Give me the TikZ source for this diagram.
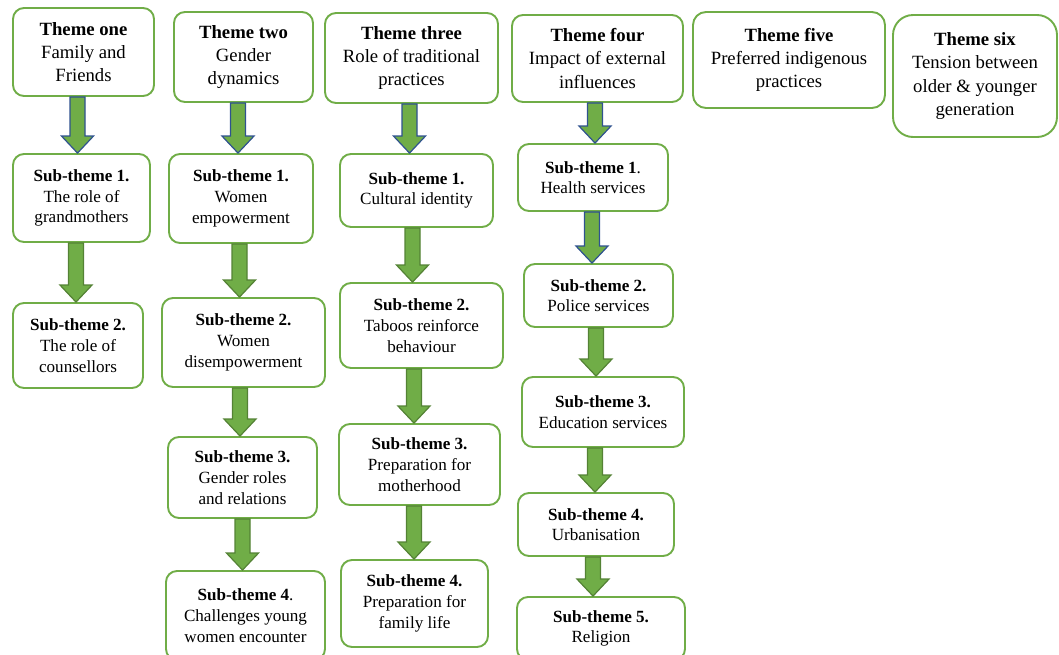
\documentclass[tikz,border=0pt]{standalone}
\usepackage{fontspec}
\setmainfont{Liberation Serif}
\usetikzlibrary{calc}

\definecolor{boxgreen}{RGB}{112,173,71}
\definecolor{arrowfill}{RGB}{112,173,71}
\definecolor{blueedge}{RGB}{47,82,143}
\definecolor{greenedge}{RGB}{84,130,53}

\tikzset{
  box/.style={draw=boxgreen, line width=1.9pt, rounded corners=11pt, fill=white,
    align=center, inner sep=0pt, text=black},
  themebox/.style={box, font=\fontsize{18.7}{23.3}\selectfont},
  subbox/.style={box, font=\fontsize{17.1}{20.7}\selectfont},
  fatarrow/.style={fill=arrowfill, draw=greenedge, line width=1.2pt, line join=miter},
  bluerim/.style={draw=blueedge},
}

% block arrow from the bottom of box #2 to the top of box #3, centred at x=#4
\newcommand\blockarrow[4][]{%
  \path[fatarrow,#1] let \p1=(#2.south), \p2=(#3.north) in
    (#4pt-7.5pt,\y1) -- (#4pt+7.5pt,\y1) -- (#4pt+7.5pt,\y2+17pt)
    -- (#4pt+16pt,\y2+17pt) -- (#4pt,\y2) -- (#4pt-16pt,\y2+17pt)
    -- (#4pt-7.5pt,\y2+17pt) -- cycle;}

\begin{document}
\begin{tikzpicture}[x=1pt,y=-1pt]
\useasboundingbox (0,0) rectangle (1059,654);
\clip (0,0) rectangle (1059,654);

% themes
\node[themebox, minimum width=141, minimum height=88] (t1) at (83.5,52)
  {\textbf{Theme one}\\Family and\\Friends};
\node[themebox, minimum width=139, minimum height=90] (t2) at (243.5,57)
  {\textbf{Theme two}\\Gender\\dynamics};
\node[themebox, minimum width=173, minimum height=90] (t3) at (411.5,58)
  {\textbf{Theme three}\\Role of traditional\\practices};
\node[themebox, minimum width=171, minimum height=87] (t4) at (597.5,58.5)
  {\textbf{Theme four}\\Impact of external\\influences};
\node[themebox, minimum width=192, minimum height=96, rounded corners=13pt] (t5) at (789,60)
  {\textbf{Theme five}\\Preferred indigenous\\practices};
\node[themebox, minimum width=164, minimum height=122, rounded corners=20pt] (t6) at (975,76)
  {\textbf{Theme six}\\Tension between\\older \& younger\\generation};

% column one
\node[subbox, minimum width=137, minimum height=88] (a1) at (81.5,198)
  {\textbf{Sub-theme 1.}\\The role of\\grandmothers};
\node[subbox, minimum width=130, minimum height=85] (a2) at (78,345.5)
  {\textbf{Sub-theme 2.}\\The role of\\counsellors};

% column two
\node[subbox, minimum width=144, minimum height=89] (b1) at (241,198.5)
  {\textbf{Sub-theme 1.}\\Women\\empowerment};
\node[subbox, minimum width=163, minimum height=89] (b2) at (243.5,342.5)
  {\textbf{Sub-theme 2.}\\Women\\disempowerment};
\node[subbox, minimum width=149, minimum height=81] (b3) at (242.5,477.5)
  {\textbf{Sub-theme 3.}\\Gender roles\\and relations};
\node[subbox, minimum width=159, minimum height=89] (b4) at (245.5,615.5)
  {\textbf{Sub-theme 4}.\\Challenges young\\women encounter};

% column three
\node[subbox, minimum width=153, minimum height=73] (c1) at (416.5,190.5)
  {\textbf{Sub-theme 1.}\\Cultural identity};
\node[subbox, minimum width=163, minimum height=85] (c2) at (421.5,325.5)
  {\textbf{Sub-theme 2.}\\Taboos reinforce\\behaviour};
\node[subbox, minimum width=161, minimum height=81] (c3) at (419.5,464.5)
  {\textbf{Sub-theme 3.}\\Preparation for\\motherhood};
\node[subbox, minimum width=147, minimum height=87] (c4) at (414.5,603.5)
  {\textbf{Sub-theme 4.}\\Preparation for\\family life};

% column four
\node[subbox, minimum width=150, minimum height=67] (d1) at (593,177.5)
  {\textbf{Sub-theme 1}.\\Health services};
\node[subbox, minimum width=149, minimum height=63] (d2) at (598.5,295.5)
  {\textbf{Sub-theme 2.}\\Police services};
\node[subbox, minimum width=162, minimum height=70] (d3) at (603,412)
  {\textbf{Sub-theme 3.}\\Education services};
\node[subbox, minimum width=156, minimum height=63] (d4) at (596,524.5)
  {\textbf{Sub-theme 4.}\\Urbanisation};
\node[subbox, minimum width=168, minimum height=63] (d5) at (601,628.5)
  {\textbf{Sub-theme 5.}\\Religion};

% arrows
\blockarrow[bluerim]{t1}{a1}{77.5}
\blockarrow{a1}{a2}{76}

\blockarrow[bluerim]{t2}{b1}{238}
\blockarrow{b1}{b2}{239.5}
\blockarrow{b2}{b3}{240}
\blockarrow{b3}{b4}{242.5}

\blockarrow[bluerim]{t3}{c1}{409.5}
\blockarrow{c1}{c2}{412.5}
\blockarrow{c2}{c3}{414}
\blockarrow{c3}{c4}{414}

\blockarrow[bluerim]{t4}{d1}{595}
\blockarrow[bluerim]{d1}{d2}{592}
\blockarrow{d2}{d3}{596}
\blockarrow{d3}{d4}{595}
\blockarrow{d4}{d5}{593}
\end{tikzpicture}
\end{document}
